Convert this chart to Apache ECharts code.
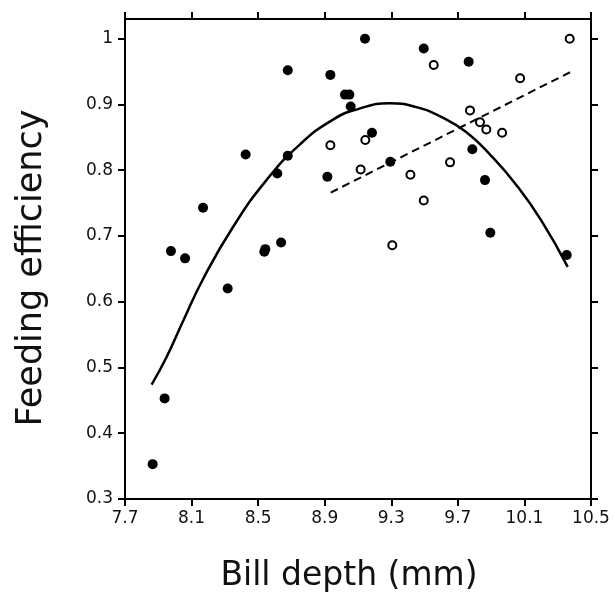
<!DOCTYPE html>
<html>
<head>
<meta charset="utf-8">
<script src="https://cdn.jsdelivr.net/npm/echarts@6/dist/echarts.min.js"></script>
<style>
  html, body { margin: 0; padding: 0; background: #fff; }
  #chart { width: 615px; height: 598px; }
</style>
</head>
<body>
<div id="chart"></div>
<script>
// filled circles
const filledX = [7.866, 7.938, 7.976, 8.061, 8.169, 8.317, 8.425, 8.543, 8.537, 8.615, 8.638, 8.678, 8.678,
  8.916, 8.934, 9.022, 9.048, 9.056, 9.142, 9.184, 9.294, 9.495, 9.765, 9.787, 9.863, 9.895, 10.354]
const filledY = [0.353, 0.453, 0.677, 0.666, 0.743, 0.620, 0.824, 0.680, 0.676, 0.795, 0.690, 0.952, 0.822,
  0.790, 0.945, 0.915, 0.915, 0.897, 1.000, 0.857, 0.813, 0.985, 0.965, 0.832, 0.785, 0.705, 0.671]
// open circles
const openX = [8.934, 9.116, 9.144, 9.306, 9.415, 9.495, 9.555, 9.653, 9.773, 9.833, 9.871, 9.966, 10.074, 10.372]
const openY = [0.838, 0.801, 0.846, 0.686, 0.793, 0.754, 0.960, 0.812, 0.891, 0.873, 0.862, 0.857, 0.940, 1.000]
// quadratic fit line
const curveX = [7.86, 7.95, 8.05, 8.17, 8.35, 8.55, 8.75, 8.95, 9.1, 9.29, 9.45, 9.6, 9.75, 9.9, 10.05, 10.2, 10.36]
const curveY = [0.474, 0.516, 0.571, 0.635, 0.714, 0.785, 0.839, 0.877, 0.893, 0.902, 0.896, 0.881, 0.858, 0.822, 0.778, 0.724, 0.653]
// dashed linear fit
const dashX = [8.936, 10.374]
const dashY = [0.766, 0.949]

const xTicks = [7.7, 8.1, 8.5, 8.9, 9.3, 9.7, 10.1, 10.5]
const yTicks = [0.3, 0.4, 0.5, 0.6, 0.7, 0.8, 0.9, 1]

const pairs = (xs, ys) => xs.map((x, i) => [x, ys[i]])

const font = 'DejaVu Sans'
const axisLine = { show: true, lineStyle: { color: '#000', width: 2 } }
const tick = (vals) => ({ show: true, inside: false, length: 7, lineStyle: { color: '#000', width: 2 }, customValues: vals })

var myChart = echarts.init(document.getElementById('chart'))
myChart.setOption({
    animation: false,
    grid: { left: 125, right: 24, top: 19, bottom: 97 },
    xAxis: [{
        type: 'value', min: 7.7, max: 10.5, position: 'bottom',
        name: 'Bill depth (mm)', nameLocation: 'middle', nameGap: 61,
        nameTextStyle: { fontFamily: font, fontSize: 33, color: '#111', padding: [0, 18, 0, 0] },
        axisLine, axisTick: tick(xTicks),
        axisLabel: { customValues: xTicks, fontFamily: font, fontSize: 17, color: '#111', margin: 11,
            formatter: v => v.toFixed(1) },
        splitLine: { show: false }
    }, {
        type: 'value', min: 7.7, max: 10.5, position: 'top',
        axisLine, axisTick: tick(xTicks), axisLabel: { show: false }, splitLine: { show: false }
    }],
    yAxis: [{
        type: 'value', min: 0.3, max: 1.03, position: 'left',
        name: 'Feeding efficiency', nameLocation: 'middle', nameGap: 76, nameRotate: 90,
        nameTextStyle: { fontFamily: font, fontSize: 35, color: '#111', padding: [0, 18, 0, 0] },
        axisLine, axisTick: tick(yTicks),
        axisLabel: { customValues: yTicks, fontFamily: font, fontSize: 17, color: '#111', margin: 12,
            formatter: v => (v === 1 ? '1' : v.toFixed(1)) },
        splitLine: { show: false }
    }, {
        type: 'value', min: 0.3, max: 1.03, position: 'right',
        axisLine, axisTick: tick(yTicks), axisLabel: { show: false }, splitLine: { show: false }
    }],
    series: [{
        type: 'line', data: pairs(curveX, curveY), smooth: true, symbol: 'none',
        lineStyle: { color: '#000', width: 2.5 }, z: 2
    }, {
        type: 'line', data: pairs(dashX, dashY), symbol: 'none',
        lineStyle: { color: '#000', width: 2, type: [8, 5] }, z: 2
    }, {
        type: 'scatter', data: pairs(filledX, filledY), symbol: 'circle', symbolSize: 10,
        itemStyle: { color: '#000', opacity: 1 }, z: 3
    }, {
        type: 'scatter', data: pairs(openX, openY), symbol: 'circle', symbolSize: 8,
        itemStyle: { color: '#fff', borderColor: '#000', borderWidth: 2, opacity: 1 }, z: 3
    }]
})
</script>
</body>
</html>
